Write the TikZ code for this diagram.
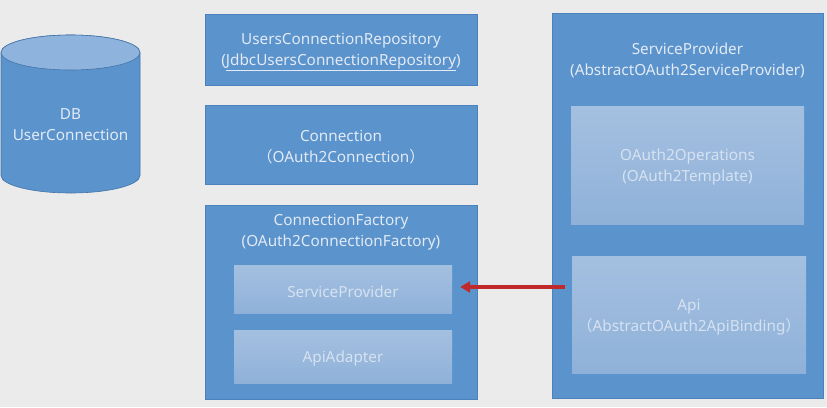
\documentclass[tikz,border=0pt]{standalone}
\usepackage{fontspec}
\setmainfont{Noto Sans}
\newfontfamily\cjk{Noto Sans CJK SC}
\usetikzlibrary{arrows.meta}
\definecolor{bg}{HTML}{EBEBEB}
\definecolor{boxblue}{HTML}{5B93CC}
\definecolor{boxline}{HTML}{4B82BD}
\definecolor{cyltop}{HTML}{8EB3DD}
\definecolor{cylline}{HTML}{4474A8}
\definecolor{innertop}{HTML}{A4C0E0}
\definecolor{innerbot}{HTML}{8FB1D9}
\definecolor{txt}{HTML}{E2EAF5}
\definecolor{intxt}{HTML}{D6E2F1}
\definecolor{arrred}{HTML}{C0282A}
\newcommand{\fwl}{{\cjk （}}
\newcommand{\fwr}{{\cjk ）}}
\newcommand{\lowr}{\rule{0pt}{16.5pt}}
\tikzset{
  outerbox/.style={draw=boxline, line width=0.6pt, fill=boxblue, text=txt, align=center,
    font=\fontsize{15.3}{21}\selectfont, inner sep=0pt},
  innerbox/.style={top color=innertop, bottom color=innerbot, draw=none, text=intxt, align=center,
    font=\fontsize{15.3}{21}\selectfont, inner sep=0pt},
  titletext/.style={text=txt, align=center, font=\fontsize{15.3}{21}\selectfont, inner sep=0pt},
  arr/.style={draw=arrred, line width=3.4pt, -{Triangle[length=10pt,width=11pt]}}
}
\begin{document}
\begin{tikzpicture}[x=1pt,y=-1pt]
\fill[bg] (0,0) rectangle (827,407);
\useasboundingbox (0,0) rectangle (827,407);
% cylinder
\filldraw[fill=boxblue, draw=cylline, line width=0.6pt] (1,52.5) -- (1,175.5)
  arc[start angle=180, end angle=360, x radius=69.5pt, y radius=17.5pt] -- (140,52.5)
  arc[start angle=0, end angle=180, x radius=69.5pt, y radius=17.5pt] -- cycle;
\filldraw[fill=cyltop, draw=cylline, line width=0.6pt] (70.5,52.5) ellipse [x radius=69.5pt, y radius=17.5pt];
\node[titletext] (db) at (70.5,125) {DB\\UserConnection};
% left column
\node[outerbox, minimum width=272pt, minimum height=71pt] (ucr) at (341,49.5)
  {\lowr UsersConnectionRepository\\(\underline{JdbcUsersConnectionRepository})};
\node[outerbox, minimum width=272pt, minimum height=79pt] (conn) at (341,144.5)
  {\lowr Connection\\\fwl OAuth2Connection\fwr};
\node[outerbox, minimum width=272pt, minimum height=194pt] (cf) at (341,302) {};
\node[titletext] (cft) at (341,232.5) {ConnectionFactory\\(OAuth2ConnectionFactory)};
\node[innerbox, minimum width=218pt, minimum height=48pt] (sp) at (343,289) {\lowr ServiceProvider};
\node[innerbox, minimum width=218pt, minimum height=53pt] (aa) at (343,356.5) {\lowr ApiAdapter};
% right column
\node[outerbox, minimum width=271pt, minimum height=385pt] (rsp) at (687.5,205.5) {};
\node[titletext] (rspt) at (687.5,60) {ServiceProvider\\(AbstractOAuth2ServiceProvider)};
\node[innerbox, minimum width=233pt, minimum height=118pt] (ops) at (687.5,165)
  {\lowr OAuth2Operations\\(OAuth2Template)};
\node[innerbox, minimum width=234pt, minimum height=117pt] (api) at (689,314.5)
  {\lowr Api\\\fwl AbstractOAuth2ApiBinding\fwr};
% arrow
\coordinate (astart) at (565,287);
\draw[arr] (astart) -- ([xshift=8pt]sp.east |- astart);
\end{tikzpicture}
\end{document}
